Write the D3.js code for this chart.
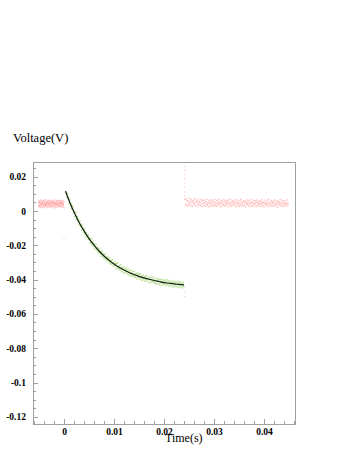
<!DOCTYPE html>
<html><head><meta charset="utf-8">
<script src="https://cdn.jsdelivr.net/npm/d3@7"></script>
<style>html,body{margin:0;padding:0;background:#fff;}svg{display:block;}</style>
</head><body>
<script>
// ---- data (time in ms, voltage in mV) ----
const preSwitch = [[-5.10,4.9],[-5.05,3.1],[-5.00,5.6],[-4.95,2.8],[-4.90,4.4],[-4.85,6.0],[-4.80,3.5],[-4.75,2.2],[-4.70,5.1],[-4.65,4.0],[-4.60,3.3],[-4.55,6.4],[-4.50,4.7],[-4.45,2.6],[-4.40,5.3],[-4.35,3.8],[-4.30,4.5],[-4.25,1.9],[-4.20,5.8],[-4.15,3.0],[-4.10,4.2],[-4.05,6.2],[-4.00,3.6],[-3.95,4.9],[-3.90,2.4],[-3.85,5.5],[-3.80,4.1],[-3.75,3.2],[-3.70,6.6],[-3.65,4.3],[-3.60,2.9],[-3.55,5.0],[-3.50,3.7],[-3.45,4.8],[-3.40,2.1],[-3.35,5.9],[-3.30,4.6],[-3.25,3.4],[-3.20,5.2],[-3.15,2.7],[-3.10,4.0],[-3.05,6.1],[-3.00,3.9],[-2.95,4.5],[-2.90,2.5],[-2.85,5.4],[-2.80,3.6],[-2.75,4.9],[-2.70,6.3],[-2.65,3.1],[-2.60,4.2],[-2.55,2.3],[-2.50,5.7],[-2.45,4.4],[-2.40,3.0],[-2.35,5.1],[-2.30,4.7],[-2.25,2.8],[-2.20,6.0],[-2.15,3.5],[-2.10,4.6],[-2.05,1.8],[-2.00,5.3],[-1.95,4.1],[-1.90,3.3],[-1.85,6.5],[-1.80,4.8],[-1.75,2.6],[-1.70,5.0],[-1.65,3.8],[-1.60,4.3],[-1.55,2.2],[-1.50,5.6],[-1.45,3.4],[-1.40,4.9],[-1.35,6.2],[-1.30,3.7],[-1.25,4.4],[-1.20,2.9],[-1.15,5.8],[-1.10,4.0],[-1.05,3.2],[-1.00,5.2],[-0.95,2.5],[-0.90,4.6],[-0.85,6.1],[-0.80,3.9],[-0.75,4.8],[-0.70,2.7],[-0.65,5.5],[-0.60,4.2],[-0.55,3.1],[-0.50,5.9],[-0.45,4.5],[-0.40,2.4],[-0.35,5.0],[-0.30,3.6],[-0.25,4.7],[-0.20,6.3],[-0.15,3.3],[-0.10,4.1],[-0.05,2.0],[0.00,5.4]];

const postSwitch = [[24.2,6.8],[24.3,4.1],[24.4,7.2],[24.5,3.4],[24.6,5.9],[24.7,2.9],[24.8,6.3],[24.9,5.0],[25.0,3.6],[25.1,7.4],[25.2,4.4],[25.3,5.7],[25.4,3.0],[25.5,6.6],[25.6,4.8],[25.7,2.7],[25.8,6.0],[25.9,5.3],[26.0,3.9],[26.1,7.0],[26.2,4.5],[26.3,3.2],[26.4,6.4],[26.5,5.1],[26.6,2.8],[26.7,5.8],[26.8,4.2],[26.9,7.1],[27.0,3.5],[27.1,5.5],[27.2,4.7],[27.3,3.1],[27.4,6.7],[27.5,4.0],[27.6,5.9],[27.7,2.6],[27.8,6.2],[27.9,4.6],[28.0,3.3],[28.1,6.5],[28.2,5.0],[28.3,2.9],[28.4,5.6],[28.5,4.1],[28.6,6.9],[28.7,3.7],[28.8,4.9],[28.9,2.5],[29.0,6.1],[29.1,4.3],[29.2,5.4],[29.3,3.0],[29.4,6.6],[29.5,4.8],[29.6,3.4],[29.7,5.9],[29.8,2.7],[29.9,5.2],[30.0,4.0],[30.1,6.8],[30.2,3.6],[30.3,5.0],[30.4,2.8],[30.5,6.3],[30.6,4.5],[30.7,3.2],[30.8,5.7],[30.9,4.2],[31.0,7.0],[31.1,3.8],[31.2,4.9],[31.3,2.4],[31.4,6.0],[31.5,4.6],[31.6,3.1],[31.7,5.5],[31.8,4.0],[31.9,6.7],[32.0,3.5],[32.1,5.2],[32.2,2.9],[32.3,6.2],[32.4,4.4],[32.5,3.7],[32.6,5.8],[32.7,4.8],[32.8,2.6],[32.9,6.4],[33.0,4.1],[33.1,5.0],[33.2,3.3],[33.3,6.9],[33.4,4.5],[33.5,2.8],[33.6,5.6],[33.7,3.9],[33.8,6.1],[33.9,4.7],[34.0,3.0],[34.1,5.4],[34.2,4.2],[34.3,6.6],[34.4,2.5],[34.5,5.1],[34.6,3.6],[34.7,4.9],[34.8,6.3],[34.9,3.4],[35.0,4.6],[35.1,2.7],[35.2,5.9],[35.3,4.0],[35.4,6.8],[35.5,3.2],[35.6,5.3],[35.7,4.4],[35.8,2.9],[35.9,6.0],[36.0,4.8],[36.1,3.5],[36.2,5.7],[36.3,2.3],[36.4,4.9],[36.5,6.5],[36.6,3.8],[36.7,4.3],[36.8,5.5],[36.9,3.1],[37.0,6.2],[37.1,4.1],[37.2,2.6],[37.3,5.0],[37.4,4.6],[37.5,6.7],[37.6,3.3],[37.7,5.2],[37.8,2.8],[37.9,4.7],[38.0,6.1],[38.1,3.7],[38.2,4.4],[38.3,5.8],[38.4,2.5],[38.5,4.9],[38.6,6.4],[38.7,3.0],[38.8,5.3],[38.9,4.2],[39.0,3.6],[39.1,6.0],[39.2,4.5],[39.3,2.7],[39.4,5.6],[39.5,3.9],[39.6,6.6],[39.7,4.8],[39.8,3.2],[39.9,5.1],[40.0,2.4],[40.1,4.6],[40.2,6.3],[40.3,3.5],[40.4,5.0],[40.5,4.1],[40.6,2.9],[40.7,5.9],[40.8,4.3],[40.9,6.8],[41.0,3.4],[41.1,4.7],[41.2,2.6],[41.3,5.4],[41.4,4.0],[41.5,6.2],[41.6,3.1],[41.7,5.2],[41.8,4.5],[41.9,2.8],[42.0,5.7],[42.1,3.8],[42.2,6.5],[42.3,4.4],[42.4,3.0],[42.5,5.5],[42.6,4.2],[42.7,2.3],[42.8,6.0],[42.9,4.8],[43.0,3.6],[43.1,5.1],[43.2,4.0],[43.3,6.7],[43.4,2.9],[43.5,4.6],[43.6,5.8],[43.7,3.3],[43.8,4.9],[43.9,2.6],[44.0,6.1],[44.1,4.3],[44.2,3.7],[44.3,5.3],[44.4,4.1],[44.5,2.8],[44.6,6.4],[44.7,4.5],[44.8,3.4]];

const switchOutliers = [[0.0,-16.2],[24.1,26.0],[24.1,23.6],[24.1,21.3],[24.1,18.9],[24.1,16.4],[24.1,13.8],[24.1,11.2],[24.1,8.9],[24.1,-47.2],[24.1,-49.8],[24.0,-120.2]];

const decay = [[0.5,10.9],[0.6,8.1],[0.7,10.1],[0.8,7.3],[0.9,8.1],[1.0,4.5],[1.1,5.8],[1.2,6.8],[1.3,3.3],[1.4,4.1],[1.5,1.4],[1.6,3.4],[1.7,1.3],[1.8,2.6],[1.9,-1.0],[2.0,0.1],[2.1,-3.1],[2.2,-0.6],[2.3,-2.9],[2.4,-0.9],[2.5,-4.8],[2.6,-3.7],[2.7,-3.2],[2.8,-6.1],[2.9,-4.9],[3.0,-8.1],[3.1,-6.8],[3.2,-5.8],[3.3,-9.0],[3.4,-7.8],[3.5,-11.1],[3.6,-8.2],[3.7,-10.4],[3.8,-9.5],[3.9,-12.6],[4.0,-11.1],[4.1,-10.3],[4.2,-13.7],[4.3,-12.9],[4.4,-15.2],[4.5,-12.6],[4.6,-14.9],[4.7,-13.9],[4.8,-16.6],[4.9,-14.0],[5.0,-16.5],[5.1,-15.3],[5.2,-18.6],[5.3,-16.6],[5.4,-18.5],[5.5,-16.1],[5.6,-19.7],[5.7,-18.5],[5.8,-17.8],[5.9,-20.6],[6.0,-19.1],[6.1,-22.2],[6.2,-19.5],[6.3,-21.4],[6.4,-19.6],[6.5,-23.0],[6.6,-21.7],[6.7,-21.0],[6.8,-24.2],[6.9,-22.3],[7.0,-24.1],[7.1,-21.8],[7.2,-25.0],[7.3,-23.8],[7.4,-26.4],[7.5,-23.5],[7.6,-25.3],[7.7,-23.8],[7.8,-26.9],[7.9,-25.3],[8.0,-27.9],[8.1,-25.4],[8.2,-27.3],[8.3,-25.0],[8.4,-28.4],[8.5,-27.1],[8.6,-29.2],[8.7,-26.5],[8.8,-28.4],[8.9,-27.5],[9.0,-30.5],[9.1,-27.3],[9.2,-29.8],[9.3,-28.8],[9.4,-31.0],[9.5,-28.6],[9.6,-30.9],[9.7,-28.4],[9.8,-32.0],[9.9,-30.4],[10.0,-32.0],[10.1,-29.6],[10.2,-31.7],[10.3,-30.6],[10.4,-33.5],[10.5,-30.5],[10.6,-32.6],[10.7,-30.5],[10.8,-33.6],[10.9,-32.5],[11.0,-34.3],[11.1,-31.9],[11.2,-33.9],[11.3,-31.3],[11.4,-34.7],[11.5,-33.1],[11.6,-35.4],[11.7,-32.7],[11.8,-34.4],[11.9,-32.8],[12.0,-36.3],[12.1,-33.8],[12.2,-35.7],[12.3,-33.2],[12.4,-35.5],[12.5,-34.0],[12.6,-36.8],[12.7,-35.0],[12.8,-33.7],[12.9,-36.9],[13.0,-34.9],[13.1,-37.7],[13.2,-34.8],[13.3,-36.6],[13.4,-34.6],[13.5,-37.8],[13.6,-36.3],[13.7,-37.7],[13.8,-35.3],[13.9,-37.6],[14.0,-35.1],[14.1,-38.6],[14.2,-36.7],[14.3,-38.5],[14.4,-36.3],[14.5,-39.4],[14.6,-37.4],[14.7,-36.2],[14.8,-38.8],[14.9,-37.0],[15.0,-39.7],[15.1,-36.8],[15.2,-38.5],[15.3,-36.6],[15.4,-39.8],[15.5,-38.1],[15.6,-40.6],[15.7,-37.7],[15.8,-39.4],[15.9,-37.4],[16.0,-40.2],[16.1,-38.3],[16.2,-40.9],[16.3,-38.0],[16.4,-39.7],[16.5,-37.5],[16.6,-40.6],[16.7,-39.4],[16.8,-38.3],[16.9,-41.4],[17.0,-39.1],[17.1,-41.8],[17.2,-38.8],[17.3,-40.5],[17.4,-38.5],[17.5,-41.5],[17.6,-39.9],[17.7,-41.3],[17.8,-38.6],[17.9,-41.2],[18.0,-39.5],[18.1,-42.1],[18.2,-40.3],[18.3,-41.9],[18.4,-39.1],[18.5,-42.6],[18.6,-40.3],[18.7,-41.2],[18.8,-39.7],[18.9,-42.5],[19.0,-40.2],[19.1,-42.9],[19.2,-39.7],[19.3,-41.9],[19.4,-40.2],[19.5,-43.3],[19.6,-41.0],[19.7,-39.7],[19.8,-42.5],[19.9,-41.0],[20.0,-43.1],[20.1,-40.5],[20.2,-41.9],[20.3,-40.2],[20.4,-43.5],[20.5,-41.1],[20.6,-43.0],[20.7,-40.1],[20.8,-42.5],[20.9,-40.8],[21.0,-43.7],[21.1,-41.6],[21.2,-43.4],[21.3,-40.5],[21.4,-43.1],[21.5,-41.3],[21.6,-44.2],[21.7,-42.1],[21.8,-41.0],[21.9,-43.8],[22.0,-41.8],[22.1,-44.3],[22.2,-41.1],[22.3,-43.0],[22.4,-41.4],[22.5,-44.2],[22.6,-42.5],[22.7,-40.9],[22.8,-43.8],[22.9,-41.9],[23.0,-44.5],[23.1,-41.6],[23.2,-43.5],[23.3,-41.3],[23.4,-44.2],[23.5,-42.6],[23.6,-44.9],[23.7,-42.0],[23.8,-43.8],[23.9,-41.6],[24.0,-44.2]];

const fitCurve = [[0.3,11.6],[1,6.2],[2,-0.6],[3,-6.5],[4,-11.6],[5,-16.1],[6,-19.9],[7,-23.3],[8,-26.2],[9,-28.7],[10,-30.9],[11,-32.8],[12,-34.4],[13,-35.8],[14,-37.0],[15,-38.1],[16,-39.0],[17,-39.8],[18,-40.5],[19,-41.1],[20,-41.7],[21,-42.1],[22,-42.5],[23,-42.8],[24,-43.1]];

const xTickValues = [0, 0.01, 0.02, 0.03, 0.04];
const xTickLabels = ["0", "0.01", "0.02", "0.03", "0.04"];
const yTickValues = [0.02, 0, -0.02, -0.04, -0.06, -0.08, -0.1, -0.12];
const yTickLabels = ["0.02", "0", "-0.02", "-0.04", "-0.06", "-0.08", "-0.1", "-0.12"];
const xTitle = "Time(s)";
const yTitle = "Voltage(V)";

// ---- drawing ----
const W = 354, H = 458;
const L = 33, R = 295, T = 162, B = 424;
const svg = d3.select("body").append("svg").attr("width", W).attr("height", H)
  .style("background", "#fff");

const x = d3.scaleLinear().domain([-0.0062, 0.0462]).range([L, R]);
const y = d3.scaleLinear().domain([0.0286, -0.1242]).range([T, B]);
const px = d => x(d[0] / 1000), py = d => y(d[1] / 1000);

const axisCol = "#a0a0a0";
const tickFont = "'Liberation Serif','Times New Roman',serif";

// frame
svg.append("rect").attr("x", L).attr("y", T).attr("width", R - L).attr("height", B - T)
  .attr("fill", "none").attr("stroke", axisCol).attr("stroke-width", 1)
  .attr("shape-rendering", "crispEdges");

// minor ticks
const xMinor = d3.range(-0.006, 0.0461, 0.002);
const yMinor = d3.range(-0.12, 0.0251, 0.005);
const gx = svg.append("g").attr("transform", `translate(0,${B})`);
gx.call(d3.axisBottom(x).tickValues(xMinor).tickSize(-3).tickFormat(""));
gx.call(g => { g.select(".domain").remove(); g.selectAll("line").attr("stroke", axisCol).attr("shape-rendering", "crispEdges"); });
const gy = svg.append("g").attr("transform", `translate(${L},0)`);
gy.call(d3.axisLeft(y).tickValues(yMinor).tickSize(-3).tickFormat(""));
gy.call(g => { g.select(".domain").remove(); g.selectAll("line").attr("stroke", axisCol).attr("shape-rendering", "crispEdges"); });

// major ticks
const gxM = svg.append("g").attr("transform", `translate(0,${B})`)
  .call(d3.axisBottom(x).tickValues(xTickValues).tickSize(-5).tickPadding(4.5)
    .tickFormat((d, i) => xTickLabels[i]));
gxM.select(".domain").remove();
gxM.selectAll("line").attr("stroke", axisCol).attr("shape-rendering", "crispEdges");
gxM.selectAll("text").attr("font-family", tickFont).attr("font-weight", "bold")
  .attr("font-size", "9.5px").attr("fill", "#000");

const gyM = svg.append("g").attr("transform", `translate(${L},0)`)
  .call(d3.axisLeft(y).tickValues(yTickValues).tickSize(-5).tickPadding(7)
    .tickFormat((d, i) => yTickLabels[i]));
gyM.select(".domain").remove();
gyM.selectAll("line").attr("stroke", axisCol).attr("shape-rendering", "crispEdges");
gyM.selectAll("text").attr("font-family", tickFont).attr("font-weight", "bold")
  .attr("font-size", "9.5px").attr("fill", "#000");

// data points
function dots(data, color, op, s) {
  svg.append("g").selectAll("rect").data(data).join("rect")
    .attr("x", d => px(d) - s / 2).attr("y", d => py(d) - s / 2)
    .attr("width", s).attr("height", s)
    .attr("fill", color).attr("fill-opacity", op);
}
dots(preSwitch, "#ff7a7a", 0.5, 1.4);
dots(postSwitch, "#ff7a7a", 0.5, 1.4);
dots(switchOutliers, "#ff9c9c", 0.5, 1.2);
dots(decay, "#9cd466", 0.7, 1.4);

// fit line
svg.append("path").datum(fitCurve)
  .attr("d", d3.line().x(px).y(py).curve(d3.curveMonotoneX))
  .attr("fill", "none").attr("stroke", "#0d200d").attr("stroke-width", 1.2);

// titles
svg.append("text").attr("x", 13).attr("y", 141.5).text(yTitle)
  .attr("font-family", tickFont).attr("font-size", "12.5px").attr("fill", "#000");
svg.append("text").attr("x", 165).attr("y", 441.5).text(xTitle)
  .attr("font-family", tickFont).attr("font-size", "12px").attr("fill", "#000");
</script>
</body></html>
